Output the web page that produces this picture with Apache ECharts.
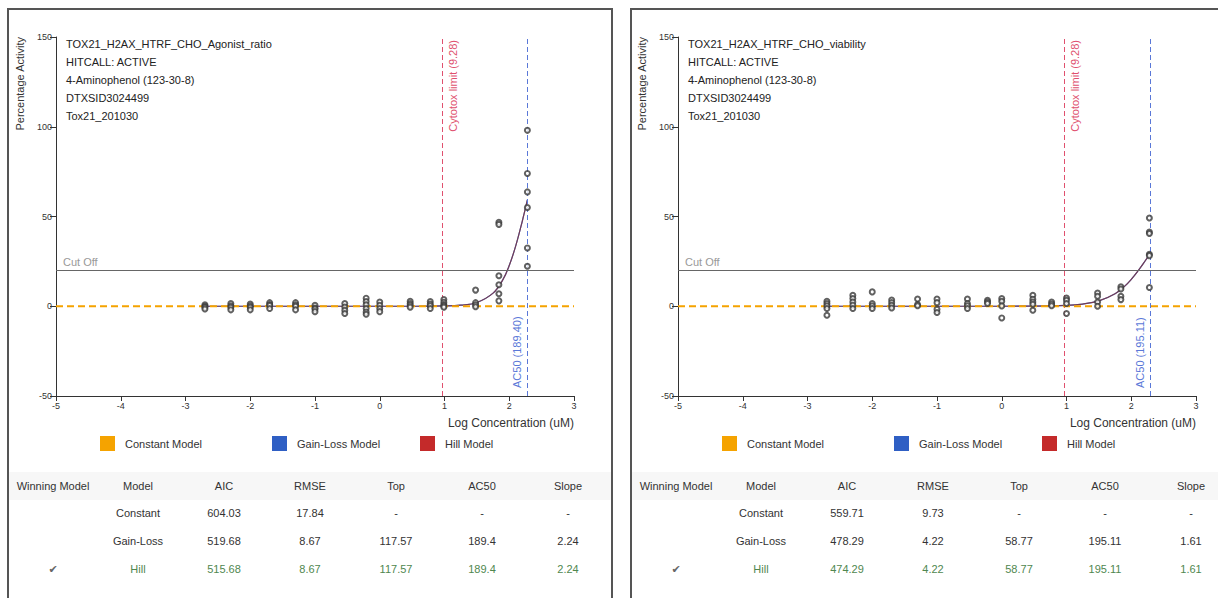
<!DOCTYPE html>
<html><head><meta charset="utf-8">
<script src="https://cdn.jsdelivr.net/npm/echarts@6/dist/echarts.min.js"></script>
<style>html,body{margin:0;padding:0;background:#fff;}#c{width:1218px;height:598px;}</style>
</head><body><div id="c"></div>
<script>
// ---------- data ----------
const leftInfo = ['TOX21_H2AX_HTRF_CHO_Agonist_ratio','HITCALL: ACTIVE','4-Aminophenol (123-30-8)','DTXSID3024499','Tox21_201030'];
const rightInfo = ['TOX21_H2AX_HTRF_CHO_viability','HITCALL: ACTIVE','4-Aminophenol (123-30-8)','DTXSID3024499','Tox21_201030'];

const leftConc = [-2.7,-2.3,-2.0,-1.7,-1.3,-1.0,-0.54,-0.21,0.0,0.47,0.78,0.99,1.48,1.84,2.28];
const leftResp = [
  [0.8,0,-0.6,-1.5],[1.5,0.3,-0.6,-2.0],[1.2,0.2,-0.6,-2.0],[2.0,1.0,0.4,-1.3],[2.0,0.8,0,-2.0],
  [0.5,-1.0,-1.5,-3.0],[1.5,-0.4,-2.2,-4.0],[4.5,2.6,0.8,-1.3,-3.2,-4.5],[2.4,0.5,-1.3,-3.0],
  [2.8,1.5,0.6,-0.5],[2.6,1.2,0.3,-1.3],[3.8,2.2,1.0,0.2,-0.5],[9.0,2.0,0.8,-0.3],
  [46.8,45.6,17.0,12.0,7.0,3.0],[98,74,63.7,55,32.5,22.3]
];
const rightConc = [-2.7,-2.3,-2.0,-1.7,-1.3,-1.0,-0.53,-0.22,0.0,0.48,0.77,1.0,1.48,1.84,2.28];
const rightResp = [
  [2.8,1.5,0.2,-1.3,-5.0],[6.1,4.3,2.4,0.6,-1.3],[8.0,1.5,0.2,-1.3],[3.5,2.0,0.5,-1.0],[4.0,1.0,0.3],
  [4.0,2.0,-1.7,-3.5],[4.0,1.5,0.3,-1.3],[3.3,2.4,1.5],[4.3,2.8,0.2,-6.5],
  [6.1,3.9,2.4,1.1,-2.2],[2.4,1.2,0.3],[4.6,3.3,1.5,-4.0],[7.4,5.6,2.4,0],
  [10.8,9.6,5.6,3.7],[49.2,41.4,40.5,29.0,28.2,10.4]
];
// fitted curves
const curveX = [-2.7,-1,0,0.5,1,1.25,1.5,1.75,1.9,2.0,2.1,2.2,2.28];
const leftCurveY = [0,0,0,0.01,0.16,0.59,2.1,7.3,14.7,22.7,33.6,47.2,59.2];
const rightCurveY = [0,0,0.01,0.08,0.49,1.22,2.98,7.0,11.2,15.0,19.5,24.5,28.8];

const cutOff = [20, 20];
const cytotoxLimit = [9.28, 9.28];
const ac50 = ['189.40', '195.11'];

const legendNames = ['Constant Model','Gain-Loss Model','Hill Model'];
const tableHeader = ['Winning Model','Model','AIC','RMSE','Top','AC50','Slope'];
const leftRows = [
  ['','Constant','604.03','17.84','-','-','-'],
  ['','Gain-Loss','519.68','8.67','117.57','189.4','2.24'],
  ['✔','Hill','515.68','8.67','117.57','189.4','2.24']
];
const rightRows = [
  ['','Constant','559.71','9.73','-','-','-'],
  ['','Gain-Loss','478.29','4.22','58.77','195.11','1.61'],
  ['✔','Hill','474.29','4.22','58.77','195.11','1.61']
];

// ---------- build ----------
const FONT = '"Liberation Sans", Arial, Helvetica, sans-serif';
const colors = {constant:'#F5A300', gain:'#2f5fc4', hill:'#c42a2a', cyto:'#e0506e', ac50:'#5a78d8'};
const panels = [
  {ox:0, px:8, info:leftInfo, conc:leftConc, resp:leftResp, curve:leftCurveY, rows:leftRows},
  {ox:622, px:631, info:rightInfo, conc:rightConc, resp:rightResp, curve:rightCurveY, rows:rightRows}
];
const grid=[], xAxis=[], yAxis=[], series=[], title=[], legend=[], graphic=[];
const colOff = [45,130,216,302,388,474,560];
const rowY = [486,513,541,569];
const legendLeft = [100,272,420];
const legendColors = [colors.constant, colors.gain, colors.hill];

panels.forEach((p,i)=>{
  grid.push({left:56+p.ox, top:37, width:518, height:359});
  xAxis.push({gridIndex:i, type:'value', min:-5, max:3, interval:1,
    name:'Log Concentration (uM)', nameLocation:'end', nameGap:0,
    nameTextStyle:{align:'right', verticalAlign:'top', padding:[21,0,0,0], fontSize:12, color:'#333', fontFamily:FONT},
    axisLine:{onZero:false, lineStyle:{color:'#333', width:1}}, axisTick:{length:5, lineStyle:{color:'#333'}},
    axisLabel:{fontSize:9, color:'#333', margin:5, fontFamily:FONT}, splitLine:{show:false}});
  yAxis.push({gridIndex:i, type:'value', min:-50, max:150, interval:50,
    axisLine:{show:true, onZero:false, lineStyle:{color:'#333', width:1}}, axisTick:{show:true, length:6, lineStyle:{color:'#333'}},
    axisLabel:{fontSize:9, color:'#333', margin:4, fontFamily:FONT}, splitLine:{show:false}});
  const pts=[];
  p.conc.forEach((c,k)=>p.resp[k].forEach(v=>pts.push([c,v])));
  series.push({type:'scatter', name:'Data', xAxisIndex:i, yAxisIndex:i, data:pts, symbol:'emptyCircle', symbolSize:5,
    itemStyle:{color:'#3a3a3a', borderWidth:0.9}, z:6});
  const curve = curveX.map((x,k)=>[x,p.curve[k]]);
  series.push({type:'line', name:'Gain-Loss Model', xAxisIndex:i, yAxisIndex:i, data:curve, smooth:0.4, showSymbol:false,
    itemStyle:{color:colors.gain}, lineStyle:{color:colors.gain, width:1.2}, z:3});
  series.push({type:'line', name:'Hill Model', xAxisIndex:i, yAxisIndex:i, data:curve, smooth:0.4, showSymbol:false,
    itemStyle:{color:colors.hill}, lineStyle:{color:'#8a2f2f', width:1.2, opacity:0.75}, z:4});
  series.push({type:'line', name:'Constant Model', xAxisIndex:i, yAxisIndex:i, data:[[-5,0],[3,0]], showSymbol:false,
    itemStyle:{color:colors.constant}, lineStyle:{color:colors.constant, width:2, type:[7,4]}, z:5,
    markLine:{silent:true, symbol:['none','none'], animation:false, data:[
      {yAxis:cutOff[i], lineStyle:{color:'#666', type:'solid', width:1.2},
        label:{show:true, position:'insideStartTop', formatter:'Cut Off', color:'#999', fontSize:11, fontFamily:FONT, distance:[7,3]}},
      {xAxis:Math.log10(cytotoxLimit[i]), lineStyle:{color:colors.cyto, type:[5,3], width:1},
        label:{show:true, position:'insideEndBottom', formatter:'Cytotox limit ('+cytotoxLimit[i].toFixed(2)+')', color:colors.cyto, fontSize:11, fontFamily:FONT, distance:[3,5]}},
      {xAxis:Math.log10(parseFloat(ac50[i])), lineStyle:{color:colors.ac50, type:[5,3], width:1},
        label:{show:true, position:'insideStartTop', formatter:'AC50 ('+ac50[i]+')', color:colors.ac50, fontSize:11, fontFamily:FONT, distance:[8,5]}}
    ]}});
  title.push({text:p.info.join('\n'), left:66+p.ox, top:35, padding:0,
    textStyle:{fontSize:11, fontWeight:'normal', lineHeight:18, color:'#222', fontFamily:FONT}});
  legendNames.forEach((n,k)=>{
    legend.push({data:[{name:n, icon:'rect', itemStyle:{color:legendColors[k], borderWidth:0}}], left:legendLeft[k]+p.ox, top:436,
      padding:0, itemWidth:15, itemHeight:15, selectedMode:false,
      textStyle:{fontSize:11, color:'#333', fontFamily:FONT, padding:[0,0,0,5]}});
  });
  graphic.push({type:'rect', shape:{x:p.px, y:9, width:(i===0?604:620), height:640}, style:{fill:'none', stroke:'#555', lineWidth:2}, z:-1});
  graphic.push({type:'rect', shape:{x:p.px+1, y:472, width:(i===0?602:590), height:28}, style:{fill:'#f7f7f7'}, z:-2});
  graphic.push({type:'text', x:20+p.ox, y:37, rotation:Math.PI/2,
    style:{text:'Percentage Activity', align:'right', textAlign:'right', verticalAlign:'middle', textVerticalAlign:'middle', fontSize:11, fontFamily:FONT, fill:'#333'}});
  const allRows=[tableHeader].concat(p.rows);
  allRows.forEach((r,ri)=>r.forEach((t,ci)=>{
    if(!t) return;
    let fill = '#333';
    if(ri===3) fill = ci===0 ? '#666' : '#4f874f';
    graphic.push({type:'text', x:p.px+colOff[ci], y:rowY[ri],
      style:{text:t, align:'center', textAlign:'center', verticalAlign:'middle', textVerticalAlign:'middle', fontSize:11, fontFamily:(t==='✔'?'"DejaVu Sans", sans-serif':FONT), fill:fill}});
  }));
});

const chart = echarts.init(document.getElementById('c'), null, {renderer:'svg', width:1218, height:598});
chart.setOption({animation:false, backgroundColor:'#fff', grid, xAxis, yAxis, series, title, legend, graphic});
</script></body></html>
